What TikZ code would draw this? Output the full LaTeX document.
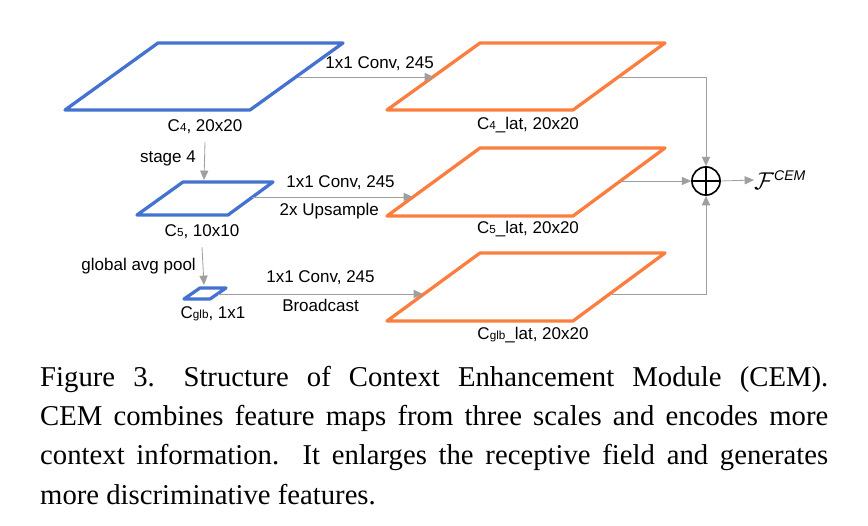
\documentclass[tikz,border=0pt]{standalone}
\usepackage{fontspec}
\setmainfont{Liberation Serif}
\newfontfamily\diagfont{Liberation Sans}
\usetikzlibrary{arrows.meta}
\begin{document}
\begin{tikzpicture}[x=0.03cm,y=-0.03cm]
        % Define styles
        \tikzset{
            fmap/.style={line width=2.8pt, line join=round},
            low/.style={fmap, draw={rgb,255:red,68;green,114;blue,208}},
            lat/.style={fmap, draw={rgb,255:red,252;green,126;blue,62}},
            lbl/.style={font=\diagfont\fontsize{14.5}{16}\selectfont, inner sep=0pt},
            arrow/.style={-{Triangle[length=8pt,width=7pt,fill=gray!75]}, draw=gray!75, line width=0.7pt}
        }
        \newcommand{\sub}[1]{{\fontsize{10}{10}\selectfont #1}}
        \useasboundingbox (0,0) rectangle (868,525);

        % Backbone maps
        \draw[low] (158,43) -- (343,43) -- (250,110) -- (65,110) -- cycle;
        \draw[low] (183,182) -- (273,182) -- (228,215) -- (137,215) -- cycle;
        \draw[low] (200,288) -- (226,288) -- (210,299) -- (184,299) -- cycle;
        \node[lbl] (c4) at (205,127) {C\sub{4}, 20x20};
        \node[lbl] (c5) at (202,232) {C\sub{5}, 10x10};
        \node[lbl] (cglb) at (213,314) {C\sub{glb}, 1x1};

        % Lateral maps
        \draw[lat] (480,43) -- (665,43) -- (573,110) -- (387,110) -- cycle;
        \draw[lat] (480,148) -- (665,148) -- (573,216) -- (387,216) -- cycle;
        \draw[lat] (480,253) -- (665,253) -- (573,321) -- (387,321) -- cycle;
        \node[lbl] (c4lat) at (528,125) {C\sub{4}\_lat, 20x20};
        \node[lbl] (c5lat) at (528,229) {C\sub{5}\_lat, 20x20};
        \node[lbl] (cglblat) at (533,335) {C\sub{glb}\_lat, 20x20};

        % Anchor points
        \coordinate (c4out) at (298,77);
        \coordinate (c4in) at (434,77);
        \coordinate (c5out) at (252,197);
        \coordinate (c5in) at (413,197);
        \coordinate (gout) at (218,294);
        \coordinate (gin) at (423,294);
        \coordinate (l4out) at (620,77);
        \coordinate (l5out) at (620,181);
        \coordinate (lgout) at (612,294);
        \coordinate (c5top) at (204,180);
        \coordinate (gtop) at (204,285);
        \node[circle, draw, line width=1.4pt, minimum size=24, inner sep=0pt] (sum) at (706,181) {};
        \draw[line width=1.4pt] (sum.north) -- (sum.south) (sum.west) -- (sum.east);
        \node[anchor=west, inner sep=0pt] (fcem) at (754,180) {\fontsize{20}{22}\selectfont$\mathcal{F}^{\hbox{\diagfont\itshape\fontsize{12}{12}\selectfont CEM}}$};

        % Arrows
        \draw[arrow] (c4.south) ++(0,8) -- (c5top);
        \draw[arrow] (c5.south) ++(0,8) -- (gtop);
        \draw[arrow] (c4out) -- (c4in) node[lbl, pos=0.6, above=5pt] {1x1 Conv, 245};
        \draw[arrow] (c5out) -- (c5in) node[lbl, pos=0.55, above=6pt] {1x1 Conv, 245} node[lbl, pos=0.48, below=5pt] {2x Upsample};
        \draw[arrow] (gout) -- (gin) node[lbl, pos=0.5, above=8pt] {1x1 Conv, 245} node[lbl, pos=0.5, below=4pt] {Broadcast};
        \draw[arrow] (l4out) -| (sum.north);
        \draw[arrow] (l5out) -- (sum.west);
        \draw[arrow] (lgout) -| (sum.south);
        \draw[arrow] (sum.east) -- (fcem.west);
        \node[lbl, anchor=east] (stage) at (196,158) {stage 4};
        \node[lbl, anchor=east] (pool) at (196,266) {global avg pool};

        % Caption
        \node[anchor=north west, inner sep=0pt, text width=23.64cm, align=justify,
              font=\fontsize{24.5}{33.5}\selectfont] (caption) at (40,366)
        {Figure 3.\quad Structure of Context Enhancement Module (CEM).\linebreak CEM combines feature maps from three scales and encodes more\linebreak context information. It enlarges the receptive field and generates\linebreak more discriminative features.};
\end{tikzpicture}
\end{document}
